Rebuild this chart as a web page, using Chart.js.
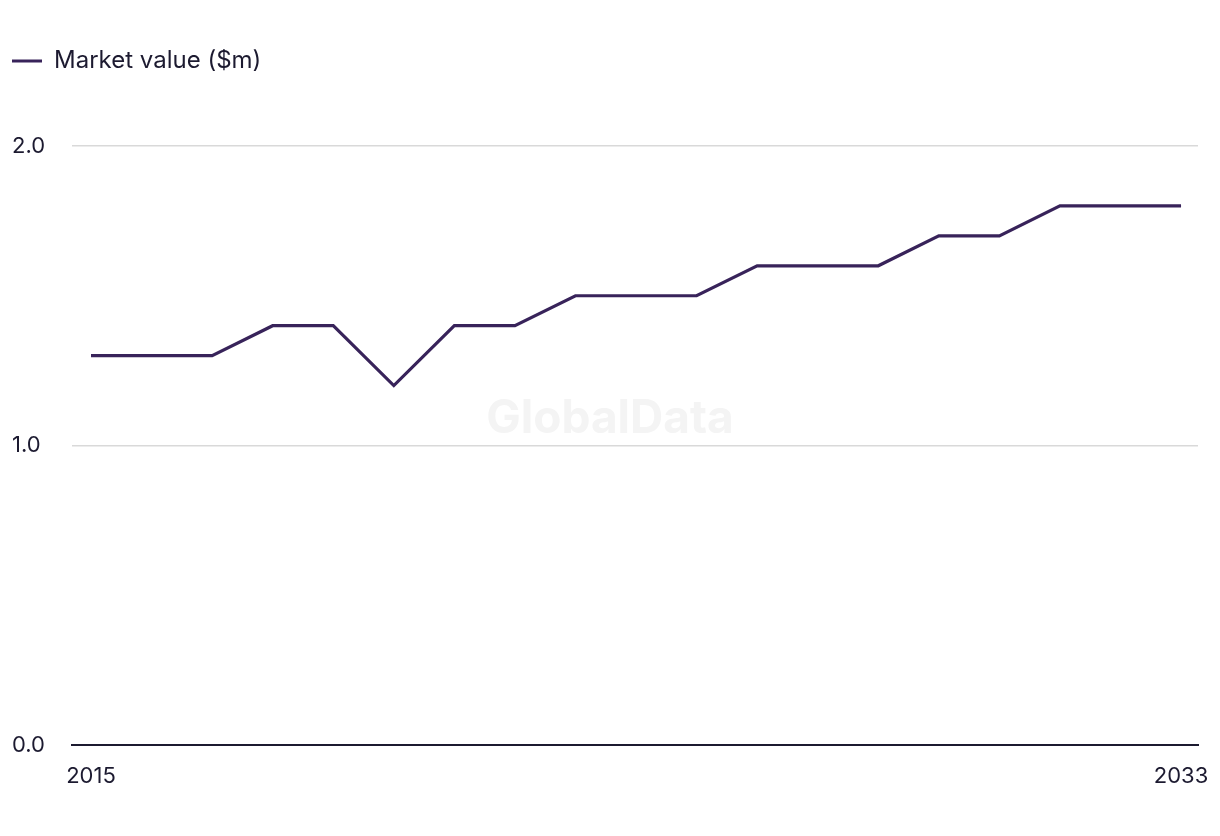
<!DOCTYPE html>
<html>
<head>
<meta charset="utf-8">
<script src="https://cdn.jsdelivr.net/npm/chart.js@4"></script>
<style>
  html, body { margin: 0; padding: 0; background: #fff; }
  #wrap { width: 1220px; height: 836px; }
</style>
</head>
<body>
<div id="wrap"><canvas id="chart"></canvas></div>
<script>
// dados
const years = [2015, 2016, 2017, 2018, 2019, 2020, 2021, 2022, 2023, 2024, 2025, 2026, 2027, 2028, 2029, 2030, 2031, 2032, 2033];
const marketValue = [1.3, 1.3, 1.3, 1.4, 1.4, 1.2, 1.4, 1.4, 1.5, 1.5, 1.5, 1.6, 1.6, 1.6, 1.7, 1.7, 1.8, 1.8, 1.8];
const xTickYears = [2015, 2033];
const yTicks = [0, 1, 2];

const textColor = "#1c1a30";
const lineColor = "#38235a";
const fontFamily = "Inter, 'Liberation Sans', Arial, sans-serif";

// marca d'água
const watermark = {
  id: "watermark",
  beforeDatasetsDraw(chart) {
    const { ctx, chartArea } = chart;
    ctx.save();
    ctx.font = "bold 46px " + fontFamily;
    ctx.fillStyle = "#f4f4f4";
    ctx.textAlign = "center";
    ctx.textBaseline = "middle";
    ctx.fillText("GlobalData", chartArea.left + 538, chartArea.top + 273);
    ctx.restore();
  },
};

// espaço extra abaixo da legenda
const legendSpace = {
  id: "legendSpace",
  beforeInit(chart) {
    const origFit = chart.legend.fit;
    chart.legend.fit = function () {
      origFit.bind(chart.legend)();
      this.height += 63;
    };
  },
};

const ctx = document.getElementById("chart").getContext("2d");
new Chart(ctx, {
  type: "line",
  data: {
    datasets: [
      {
        label: "Market value ($m)",
        data: years.map((y, i) => ({ x: y, y: marketValue[i] })),
        borderColor: lineColor,
        backgroundColor: lineColor,
        borderWidth: 3.2,
        pointRadius: 0,
        tension: 0,
      },
    ],
  },
  options: {
    responsive: true,
    maintainAspectRatio: false,
    animation: false,
    layout: { padding: { left: 12, right: 22, top: 49, bottom: 44 } },
    plugins: {
      legend: {
        position: "top",
        align: "start",
        labels: {
          padding: 0,
          boxWidth: 30,
          boxHeight: 3,
          color: textColor,
          font: { family: fontFamily, size: 24 },
          generateLabels(chart) {
            const items = Chart.defaults.plugins.legend.labels.generateLabels(chart);
            items.forEach((it) => { it.lineWidth = 0; it.fillStyle = lineColor; });
            return items;
          },
        },
      },
      tooltip: { enabled: false },
    },
    scales: {
      x: {
        type: "linear",
        min: 2014.686,
        max: 2033.28,
        afterBuildTicks(axis) {
          axis.ticks = xTickYears.map((v) => ({ value: v }));
        },
        afterFit(axis) {
          axis.height = 47;
        },
        // marcas invisíveis só para afastar os rótulos do eixo
        grid: { display: true, drawOnChartArea: false, drawTicks: true, tickLength: 8, tickColor: "rgba(0,0,0,0)" },
        border: { display: true, color: textColor, width: 2 },
        ticks: {
          color: textColor,
          font: { family: fontFamily, size: 22 },
          padding: 10,
          maxRotation: 0,
          callback: (v) => String(v),
        },
      },
      y: {
        min: 0,
        max: 2,
        afterBuildTicks(axis) {
          axis.ticks = yTicks.map((v) => ({ value: v }));
        },
        afterFit(axis) {
          axis.width = 60;
        },
        grid: { color: "#d9d9d9", lineWidth: 1.5, drawTicks: false },
        border: { display: false },
        ticks: {
          color: textColor,
          font: { family: fontFamily, size: 22 },
          crossAlign: "far",
          padding: 10,
          callback: (v) => Number(v).toFixed(1),
        },
      },
    },
  },
  plugins: [watermark, legendSpace],
});
</script>
</body>
</html>
